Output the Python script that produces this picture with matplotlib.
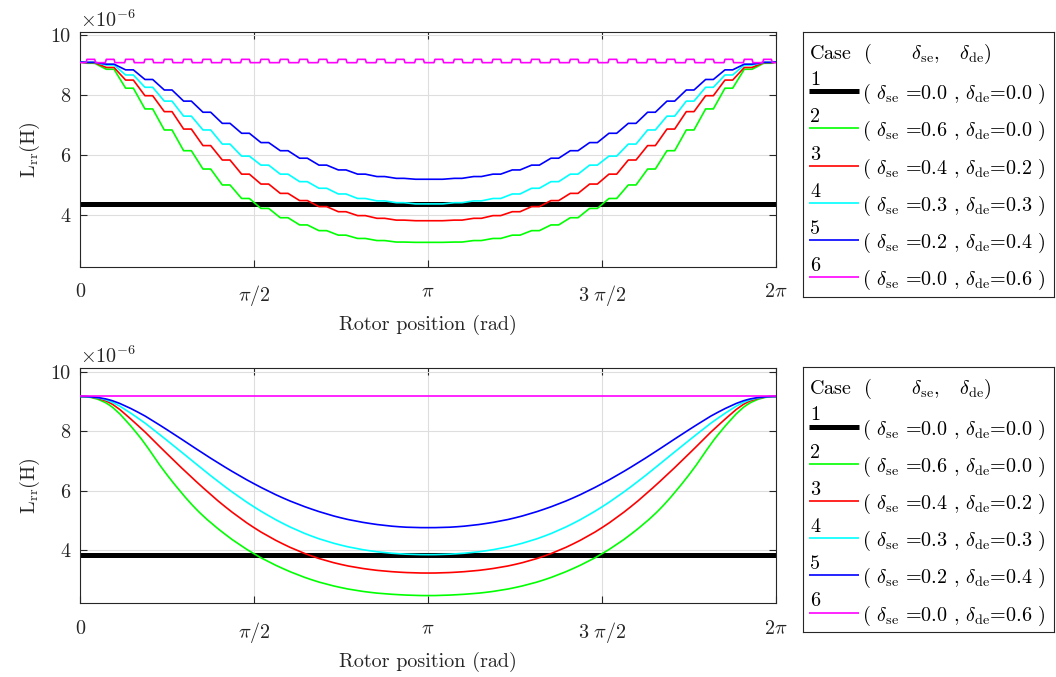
import numpy as np
import matplotlib
matplotlib.use("Agg")
import matplotlib.pyplot as plt
from matplotlib.path import Path
from matplotlib.patches import PathPatch

plt.rcParams['font.family'] = 'serif'
plt.rcParams['font.serif'] = ['cmr10']
plt.rcParams['mathtext.fontset'] = 'cm'
plt.rcParams['axes.unicode_minus'] = False

# ---- data (values in units of 1e-6 H) ----
# top panel: plateau levels of the stepped curves, first half (0..pi), 10 deg slots
TOP_GREEN_HALF = [9.06, 8.86, 8.23, 7.54, 6.84, 6.15, 5.54, 5.01, 4.56, 4.23, 3.92, 3.68, 3.49, 3.34, 3.23, 3.16, 3.11, 3.10]
TOP_RED_HALF = [9.08, 8.92, 8.50, 7.98, 7.45, 6.87, 6.32, 5.84, 5.37, 5.04, 4.73, 4.49, 4.29, 4.12, 3.99, 3.90, 3.84, 3.82]
TOP_CYAN_HALF = [9.09, 9.00, 8.67, 8.26, 7.80, 7.30, 6.84, 6.37, 5.97, 5.67, 5.37, 5.12, 4.90, 4.71, 4.56, 4.48, 4.42, 4.38]
TOP_BLUE_HALF = [9.09, 9.03, 8.84, 8.52, 8.17, 7.80, 7.43, 7.06, 6.73, 6.42, 6.15, 5.90, 5.67, 5.51, 5.37, 5.29, 5.23, 5.20]
TOP_END_VALUE = 9.10
TOP_BLACK = 4.38
TOP_MAGENTA_BASE = 9.08
TOP_MAGENTA_PEAK = 9.19

# bottom panel: smooth curves sampled every pi/12 from 0 to pi (symmetric about pi)
BOT_GREEN_HALF = [9.18, 8.90, 7.89, 6.54, 5.39, 4.54, 3.88, 3.38, 3.00, 2.74, 2.58, 2.50, 2.47]
BOT_RED_HALF = [9.18, 8.98, 8.20, 7.25, 6.32, 5.47, 4.76, 4.21, 3.80, 3.52, 3.35, 3.26, 3.23]
BOT_CYAN_HALF = [9.18, 9.03, 8.45, 7.70, 6.91, 6.14, 5.46, 4.90, 4.47, 4.17, 3.98, 3.88, 3.85]
BOT_BLUE_HALF = [9.18, 9.07, 8.65, 8.06, 7.42, 6.80, 6.24, 5.76, 5.38, 5.09, 4.90, 4.79, 4.76]
BOT_BLACK = 3.84
BOT_MAGENTA = 9.18

CASES = ['1', '2', '3', '4', '5', '6']
D_SE = ['0.0', '0.6', '0.4', '0.3', '0.2', '0.0']
D_DE = ['0.0', '0.0', '0.2', '0.3', '0.4', '0.6']
COLORS = ['k', (0, 1, 0), (1, 0, 0), (0, 1, 1), (0, 0, 1), (1, 0, 1)]

X_TICKS = [0, np.pi / 2, np.pi, 3 * np.pi / 2, 2 * np.pi]
X_TICKLABELS = ['0', r'$\pi/2$', r'$\pi$', r'$3\ \pi/2$', r'$2\pi$']
Y_TICKS = [4, 6, 8, 10]

N_SLOTS = 36
SLOT = 2 * np.pi / N_SLOTS
OFFSET = 0.56     # plateau centre inside each slot
HALF_W = 0.2      # plateau half width (slots)
FS = 14.5


def full(half, centre_dup=False):
    if centre_dup:
        return list(half) + list(half[-2::-1])
    return list(half) + list(half[::-1])


def stepped(levels, v_end):
    xs, ys = [0.0], [v_end]
    for j, v in enumerate(levels):
        c = (j + OFFSET) * SLOT
        xs += [c - HALF_W * SLOT, c + HALF_W * SLOT]
        ys += [v, v]
    xs.append(2 * np.pi)
    ys.append(v_end)
    return xs, ys


def bumps(base, peak):
    xs, ys = [0.0], [base]
    ramp = 0.05 * SLOT
    for j in range(N_SLOTS):
        c = (j + OFFSET) * SLOT
        xs += [c - HALF_W * SLOT - ramp, c - HALF_W * SLOT, c + HALF_W * SLOT, c + HALF_W * SLOT + ramp]
        ys += [base, peak, peak, base]
    xs.append(2 * np.pi)
    ys.append(base)
    return xs, ys


def smooth_path(x, y):
    # cubic Bezier (Catmull-Rom) through the sampled points
    x = np.asarray(x, float)
    y = np.asarray(y, float)
    xp = np.concatenate([[2 * x[0] - x[1]], x, [2 * x[-1] - x[-2]]])
    yp = np.concatenate([[y[1]], y, [y[-2]]])
    verts = [(x[0], y[0])]
    codes = [Path.MOVETO]
    for i in range(1, len(xp) - 2):
        p0 = np.array([xp[i - 1], yp[i - 1]])
        p1 = np.array([xp[i], yp[i]])
        p2 = np.array([xp[i + 1], yp[i + 1]])
        p3 = np.array([xp[i + 2], yp[i + 2]])
        c1 = p1 + (p2 - p0) / 6
        c2 = p2 - (p3 - p1) / 6
        verts += [tuple(c1), tuple(c2), tuple(p2)]
        codes += [Path.CURVE4] * 3
    return Path(verts, codes)


fig = plt.figure(figsize=(10.56, 6.77), dpi=100)
W, H = 1056, 677

ax_top = fig.add_axes([80 / W, 1 - 266.7 / H, 696 / W, 235 / H])
ax_bot = fig.add_axes([80 / W, 1 - 603.3 / H, 696 / W, 235.6 / H])

# top panel
ax_top.plot([0, 2 * np.pi], [TOP_BLACK, TOP_BLACK], color='k', lw=3.6, zorder=2)
for half, col in zip([TOP_GREEN_HALF, TOP_RED_HALF, TOP_CYAN_HALF, TOP_BLUE_HALF], COLORS[1:5]):
    xs, ys = stepped(full(half), TOP_END_VALUE)
    ax_top.plot(xs, ys, color=col, lw=1.2, zorder=3)
xs, ys = bumps(TOP_MAGENTA_BASE, TOP_MAGENTA_PEAK)
ax_top.plot(xs, ys, color=COLORS[5], lw=1.2, zorder=3)
ax_top.set_ylim(2.29, 10.11)

# bottom panel
theta = np.linspace(0, 2 * np.pi, 25)
ax_bot.plot([0, 2 * np.pi], [BOT_BLACK, BOT_BLACK], color='k', lw=3.6, zorder=2)
for half, col in zip([BOT_GREEN_HALF, BOT_RED_HALF, BOT_CYAN_HALF, BOT_BLUE_HALF], COLORS[1:5]):
    patch = PathPatch(smooth_path(theta, full(half, centre_dup=True)), facecolor='none',
                      edgecolor=col, lw=1.2, zorder=3)
    ax_bot.add_patch(patch)
ax_bot.plot([0, 2 * np.pi], [BOT_MAGENTA, BOT_MAGENTA], color=COLORS[5], lw=1.2, zorder=3)
ax_bot.set_ylim(2.21, 10.15)

axis_col = (0.15, 0.15, 0.15)
for ax in (ax_top, ax_bot):
    ax.set_xlim(0, 2 * np.pi)
    ax.set_xticks(X_TICKS)
    ax.set_xticklabels(X_TICKLABELS)
    ax.set_yticks(Y_TICKS)
    ax.tick_params(direction='in', top=True, right=True, labelsize=FS, colors=axis_col,
                   length=5, width=0.8)
    ax.tick_params(axis='x', pad=12)
    ax.tick_params(axis='y', pad=7)
    ax.grid(True, color=(0.87, 0.87, 0.87), lw=0.8)
    ax.set_axisbelow(True)
    for s in ax.spines.values():
        s.set_color(axis_col)
        s.set_linewidth(0.8)
    ax.set_xlabel('Rotor position (rad)', fontsize=FS, color=axis_col, labelpad=5)
    ax.set_ylabel(r'$\mathrm{L_{rr}(H)}$', fontsize=FS, color=axis_col, labelpad=6)
    ax.text(0.0, 1.005, r'$\times 10^{-6}$', transform=ax.transAxes, fontsize=FS,
            color=axis_col, ha='left', va='bottom')


def draw_legend(top_px):
    lax = fig.add_axes([803 / W, 1 - (top_px + 265) / H, 251 / W, 265 / H])
    lax.set_xlim(0, 251)
    lax.set_ylim(265, 0)
    lax.set_xticks([])
    lax.set_yticks([])
    for s in lax.spines.values():
        s.set_color(axis_col)
        s.set_linewidth(0.8)
    lax.text(6, 22, r'Case  (      $\delta_{\rm se}$,   $\delta_{\rm de}$)', fontsize=FS,
             va='center', ha='left', color='k')
    for i in range(len(CASES)):
        y = 59.5 + 37.2 * i
        lax.plot([6, 56], [y, y], color=COLORS[i], lw=3.6 if i == 0 else 1.2,
                 solid_capstyle='butt')
        lax.text(7, y - 2, CASES[i], fontsize=FS, va='bottom', ha='left', color='k')
        lax.text(59, y + 3,
                 r'( $\delta_{\rm se}$ =%s , $\delta_{\rm de}$=%s )' % (D_SE[i], D_DE[i]),
                 fontsize=FS, va='center', ha='left', color='k')


draw_legend(31.7)
draw_legend(367.0)

fig.savefig('out.png', dpi=100)
